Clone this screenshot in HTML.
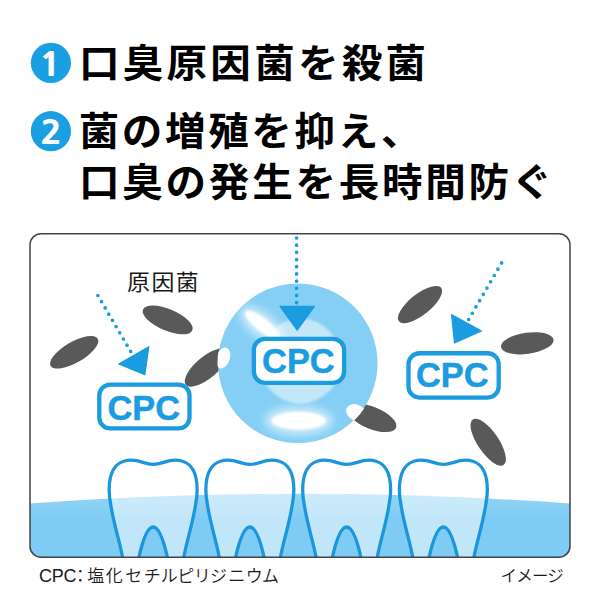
<!DOCTYPE html>
<html lang="ja">
<head>
<meta charset="utf-8">
<title>CPC</title>
<style>
html,body{margin:0;padding:0;background:#fff;}
body{width:600px;height:600px;overflow:hidden;position:relative;font-family:"Liberation Sans","Noto Sans CJK JP",sans-serif;}
svg{position:absolute;left:0;top:0;display:block;}
.h{font-family:"Liberation Sans","Noto Sans CJK JP",sans-serif;font-weight:700;font-size:39px;fill:#000;}
.num{font-family:"NanumGothic","Liberation Sans",sans-serif;font-weight:800;font-size:32.5px;fill:#fff;text-anchor:middle;}
.cpc{font-family:"Liberation Sans",sans-serif;font-weight:700;font-size:34.4px;fill:#1b9be0;stroke:#1b9be0;stroke-width:0.5px;text-anchor:middle;}
.lbl{font-family:"Liberation Sans","Noto Sans CJK JP",sans-serif;font-weight:300;fill:#1a1a1a;}
.thin{font-weight:350;}
</style>
</head>
<body>
<svg width="600" height="600" viewBox="0 0 600 600">
<defs>
  <clipPath id="boxclip"><rect x="30" y="233.8" width="540" height="323.5" rx="11" ry="11"/></clipPath>
  <clipPath id="sphclip"><circle cx="297.8" cy="363.3" r="80.3"/></clipPath>
  <linearGradient id="wat" gradientUnits="userSpaceOnUse" x1="0" y1="493" x2="0" y2="520">
    <stop offset="0" stop-color="#93d5f5"/>
    <stop offset="1" stop-color="#7ecbf3"/>
  </linearGradient>
  <linearGradient id="hl" x1="0" y1="0.5" x2="1" y2="0.5">
    <stop offset="0" stop-color="#fff" stop-opacity="1"/>
    <stop offset="0.6" stop-color="#fff" stop-opacity="1"/>
    <stop offset="1" stop-color="#fff" stop-opacity="0.7"/>
  </linearGradient>
  <filter id="b1" x="-50%" y="-50%" width="200%" height="200%"><feGaussianBlur stdDeviation="0.8"/></filter>
  <filter id="b5" x="-50%" y="-50%" width="200%" height="200%"><feGaussianBlur stdDeviation="4"/></filter>
  <filter id="b2" x="-50%" y="-50%" width="200%" height="200%"><feGaussianBlur stdDeviation="1.2"/></filter>
</defs>
<rect width="600" height="600" fill="#fff"/>

<!-- headings -->
<circle cx="50.9" cy="62.9" r="20.1" fill="#1b9fe3"/>
<text class="num" transform="translate(50.2,75.5) scale(1.15,1)">1</text>
<g transform="scale(1.04,1)">
<text class="h" x="76.0" y="76.7" letter-spacing="3.115">口臭原因菌を殺菌</text>
<text class="h" x="75.64" y="145.4" letter-spacing="2.54">菌の増殖を抑え、</text>
<text class="h" x="76.0" y="196" letter-spacing="2.63">口臭の発生を長時間防ぐ</text>
</g>
<circle cx="50.9" cy="131.2" r="20.1" fill="#1b9fe3"/>
<text class="num" transform="translate(51,144) scale(1.1,1)">2</text>

<!-- illustration box -->
<g clip-path="url(#boxclip)">
  <rect x="30" y="233" width="541" height="325" fill="#fff"/>
  <!-- water -->
  <path d="M30,503.4 Q300,484 571,503.6 L571,558 L30,558 Z" fill="url(#wat)"/>
  <!-- teeth -->
  <g fill="rgba(255,255,255,0.53)" stroke="#1b96dc" stroke-width="3.3" stroke-linejoin="round">
    <path d="M13.2,560 C11,545 4,525 1,505 C-1,495 -1,485 0.5,478 C3,466 11,460.2 21.4,460.2 C31,460.2 35,464.4 43.35,464.4 C52,464.4 56,460.2 65.3,460.2 C75.7,460.2 83.7,466 86.2,478 C87.7,485 87.7,495 85.7,505 C82.7,525 75.7,545 73.5,560 L58.2,560 C55,545 50,527 43.35,527 C36.7,527 31.7,545 28.5,560 Z" transform="translate(109.8,0)"/>
    <path d="M13.2,560 C11,545 4,525 1,505 C-1,495 -1,485 0.5,478 C3,466 11,460.2 21.4,460.2 C31,460.2 35,464.4 43.35,464.4 C52,464.4 56,460.2 65.3,460.2 C75.7,460.2 83.7,466 86.2,478 C87.7,485 87.7,495 85.7,505 C82.7,525 75.7,545 73.5,560 L58.2,560 C55,545 50,527 43.35,527 C36.7,527 31.7,545 28.5,560 Z" transform="translate(206.5,0)"/>
    <path d="M13.2,560 C11,545 4,525 1,505 C-1,495 -1,485 0.5,478 C3,466 11,460.2 21.4,460.2 C31,460.2 35,464.4 43.35,464.4 C52,464.4 56,460.2 65.3,460.2 C75.7,460.2 83.7,466 86.2,478 C87.7,485 87.7,495 85.7,505 C82.7,525 75.7,545 73.5,560 L58.2,560 C55,545 50,527 43.35,527 C36.7,527 31.7,545 28.5,560 Z" transform="translate(303.3,0)"/>
    <path d="M13.2,560 C11,545 4,525 1,505 C-1,495 -1,485 0.5,478 C3,466 11,460.2 21.4,460.2 C31,460.2 35,464.4 43.35,464.4 C52,464.4 56,460.2 65.3,460.2 C75.7,460.2 83.7,466 86.2,478 C87.7,485 87.7,495 85.7,505 C82.7,525 75.7,545 73.5,560 L58.2,560 C55,545 50,527 43.35,527 C36.7,527 31.7,545 28.5,560 Z" transform="translate(400,0)"/>
  </g>
</g>

<!-- bacteria -->
<g fill="#595959">
  <ellipse cx="167.7" cy="319.9" rx="26.8" ry="10.8" transform="rotate(23 167.7 319.9)"/>
  <ellipse cx="74.2" cy="352.3" rx="27.2" ry="10.4" transform="rotate(-30 74.2 352.3)"/>
  <ellipse cx="206.5" cy="367.5" rx="27" ry="10.8" transform="rotate(-40 206.5 367.5)"/>
  <ellipse cx="420" cy="304.6" rx="27" ry="10.5" transform="rotate(-38.4 420 304.6)"/>
  <ellipse cx="527.3" cy="343.3" rx="26.5" ry="10.6" transform="rotate(-8 527.3 343.3)"/>
  <ellipse cx="488.2" cy="442.2" rx="27.5" ry="10.5" transform="rotate(56 488.2 442.2)"/>
  <ellipse cx="372" cy="418" rx="26" ry="11" transform="rotate(22 372 418)"/>
</g>

<!-- sphere -->
<circle cx="297.8" cy="363.3" r="79.8" fill="#86cff4"/>
<ellipse cx="300.3" cy="361" rx="41" ry="42.5" fill="#c3e6f9" filter="url(#b1)"/>
<g fill="#fff">
  <ellipse cx="262" cy="325" rx="26" ry="12" transform="rotate(38 262 325)" filter="url(#b5)" opacity="0.6"/>
  <ellipse cx="298.7" cy="420.7" rx="34" ry="14" filter="url(#b5)" opacity="0.6"/>
  <ellipse cx="262.5" cy="324.8" rx="21.5" ry="6.6" transform="rotate(38 262.5 324.8)" fill="url(#hl)" filter="url(#b2)"/>
  <ellipse cx="298.7" cy="420.7" rx="27.2" ry="8.9" filter="url(#b1)"/>
  <g clip-path="url(#sphclip)">
    <ellipse cx="223" cy="358" rx="6.8" ry="10.8" transform="rotate(18 223 358)"/>
    <ellipse cx="356.5" cy="412.8" rx="11" ry="8" transform="rotate(28 356.5 412.8)"/>
  </g>
</g>

<!-- CPC boxes -->
<g fill="#fff" stroke="#1b9be0" stroke-width="4.3">
  <rect x="99.3" y="384.55" width="90.2" height="43.9" rx="11"/>
  <rect x="253.9" y="338.9" width="90.2" height="43.9" rx="11"/>
  <rect x="408.5" y="353.25" width="90.2" height="44.3" rx="11"/>
</g>
<text class="cpc" x="143.8" y="420.2">CPC</text>
<text class="cpc" x="298.4" y="373">CPC</text>
<text class="cpc" x="452.3" y="386.9">CPC</text>

<!-- arrows -->
<g stroke="#1b9be0" stroke-width="3.7" stroke-linecap="round" fill="none">
  <path d="M97.9,295.5 L131,352" stroke-dasharray="0 7.2"/>
  <path d="M296.6,238 L296.6,303.2" stroke-dasharray="0 7.18"/>
  <path d="M501.6,262.9 L468.3,320.1" stroke-dasharray="0 7.28"/>
</g>
<g fill="#1b9be0" stroke="#1b9be0" stroke-width="1.2" stroke-linejoin="round">
  <polygon points="118.7,364 148.8,346.7 144.8,374.7"/>
  <polygon points="280,306.4 314.4,306.4 297.2,330.2"/>
  <polygon points="451.5,314.5 481.5,331 454.5,343"/>
</g>

<!-- box border -->
<rect x="30" y="233.8" width="540" height="323.5" rx="11" ry="11" fill="none" stroke="#474344" stroke-width="1.5"/>

<!-- labels -->
<text class="lbl" transform="translate(127,290.3) scale(1.04,1)" font-size="22" letter-spacing="1.5" style="font-weight:400">原因菌</text>
<text class="lbl thin" y="582" font-size="17"><tspan x="39" font-size="18" letter-spacing="-0.3">CPC</tspan><tspan x="71.8">：</tspan><tspan x="87.3 105.8 125.2 143.8 160.8 177.2 193.8 210 228.3 245.7 262.1">塩化セチルピリジニウム</tspan></text>
<text class="lbl thin" x="500.5" y="582" font-size="16.5" letter-spacing="-0.8">イメージ</text>
</svg>
</body>
</html>
